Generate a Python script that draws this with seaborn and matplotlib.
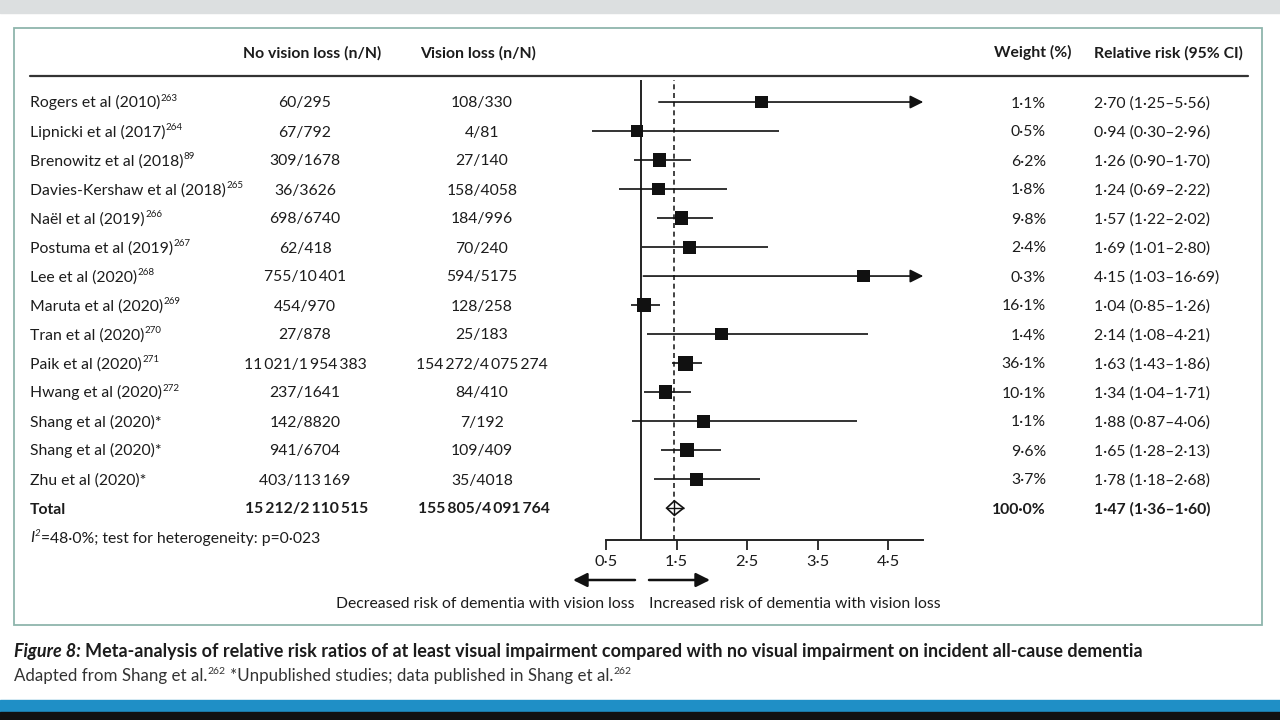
import numpy as np
import pandas as pd
import matplotlib
matplotlib.use('Agg')
import matplotlib.pyplot as plt
import seaborn as sns
from matplotlib.patches import Polygon, Rectangle

TS = '\u2009'  # thin space used as thousands separator

studies = ['Rogers et al (2010)', 'Lipnicki et al (2017)', 'Brenowitz et al (2018)',
           'Davies-Kershaw et al (2018)', 'Naël et al (2019)', 'Postuma et al (2019)',
           'Lee et al (2020)', 'Maruta et al (2020)', 'Tran et al (2020)', 'Paik et al (2020)',
           'Hwang et al (2020)', 'Shang et al (2020)', 'Shang et al (2020)', 'Zhu et al (2020)']
refs = ['263', '264', '89', '265', '266', '267', '268', '269', '270', '271', '272', '*', '*', '*']
no_loss = ['60/295', '67/792', '309/1678', '36/3626', '698/6740', '62/418',
           f'755/10{TS}401', '454/970', '27/878', f'11{TS}021/1{TS}954{TS}383',
           '237/1641', '142/8820', '941/6704', f'403/113{TS}169']
vis_loss = ['108/330', '4/81', '27/140', '158/4058', '184/996', '70/240',
            '594/5175', '128/258', '25/183', f'154{TS}272/4{TS}075{TS}274',
            '84/410', '7/192', '109/409', '35/4018']
weights = [1.1, 0.5, 6.2, 1.8, 9.8, 2.4, 0.3, 16.1, 1.4, 36.1, 10.1, 1.1, 9.6, 3.7]
rr = [2.70, 0.94, 1.26, 1.24, 1.57, 1.69, 4.15, 1.04, 2.14, 1.63, 1.34, 1.88, 1.65, 1.78]
ci_lo = [1.25, 0.30, 0.90, 0.69, 1.22, 1.01, 1.03, 0.85, 1.08, 1.43, 1.04, 0.87, 1.28, 1.18]
ci_hi = [5.56, 2.96, 1.70, 2.22, 2.02, 2.80, 16.69, 1.26, 4.21, 1.86, 1.71, 4.06, 2.13, 2.68]

total_no_loss = f'15{TS}212/2{TS}110{TS}515'
total_vis_loss = f'155{TS}805/4{TS}091{TS}764'
total_weight = 100.0
total_rr, total_lo, total_hi = 1.47, 1.36, 1.60

x_ticks = [0.5, 1.5, 2.5, 3.5, 4.5]
x_max = 5.0

sns.set_theme(style='white')
plt.rcParams['font.family'] = ['Lato', 'DejaVu Sans']

INK = '#1c1c1c'
FS = 11.3
SUP = 7.0


def dot(v, nd=2):
    return f'{v:.{nd}f}'.replace('.', '·')


df = pd.DataFrame({'study': studies, 'rr': rr, 'lo': ci_lo, 'hi': ci_hi, 'weight': weights})
df['row'] = np.arange(len(df))
total_row = len(df)

fig = plt.figure(figsize=(12.8, 7.2), dpi=100)
fig.patch.set_facecolor('white')
renderer = fig.canvas.get_renderer()

# full-figure axes in pixel coords for the table text and frame
ax = fig.add_axes([0, 0, 1, 1])
ax.set_xlim(0, 1280)
ax.set_ylim(720, 0)
ax.axis('off')

ax.add_patch(Rectangle((0, 0), 1280, 13, color='#dcdfe0', zorder=0))
ax.add_patch(Rectangle((0, 700), 1280, 12, color='#1f8fc6', zorder=0))
ax.add_patch(Rectangle((0, 712), 1280, 8, color='#111111', zorder=0))
ax.add_patch(Rectangle((14, 28), 1248, 597, fill=False, edgecolor='#8fb5ad', lw=1.3))


def row_y(r):
    return 102 + 29.0 * r


BASE = 5.5  # baseline offset below row centre


def text_sup(x, y, s, sup, fs=FS, sup_fs=SUP, rise=6.5, **kw):
    t = ax.text(x, y, s, fontsize=fs, va='baseline', ha='left', **kw)
    bb = t.get_window_extent(renderer=renderer)
    st = ax.text(bb.x1 + 0.5, y - rise, sup, fontsize=sup_fs, va='baseline', ha='left', **kw)
    return st.get_window_extent(renderer=renderer)


hdr = dict(fontsize=FS, fontweight='bold', color=INK, va='baseline')
ax.text(312, 52 + BASE, 'No vision loss (n/N)', ha='center', **hdr)
ax.text(478, 52 + BASE, 'Vision loss (n/N)', ha='center', **hdr)
ax.text(1072, 52 + BASE, 'Weight (%)', ha='right', **hdr)
ax.text(1094, 52 + BASE, 'Relative risk (95% CI)', ha='left', **hdr)
ax.plot([30, 1248], [76, 76], color='#333333', lw=1.6)

for _, r in df.iterrows():
    i = r['row']
    y = row_y(i) + BASE
    if refs[i] == '*':
        ax.text(30, y, r['study'] + '*', fontsize=FS, color=INK, va='baseline', ha='left')
    else:
        text_sup(30, y, r['study'], refs[i], color=INK)
    ax.text(305, y, no_loss[i], fontsize=FS, color=INK, va='baseline', ha='center')
    ax.text(482, y, vis_loss[i], fontsize=FS, color=INK, va='baseline', ha='center')
    ax.text(1046, y, dot(r['weight'], 1) + '%', fontsize=FS, color=INK, va='baseline', ha='right')
    ax.text(1094, y, f"{dot(r['rr'])} ({dot(r['lo'])}–{dot(r['hi'])})", fontsize=FS,
            color=INK, va='baseline', ha='left')

yt = row_y(total_row) + BASE
bold = dict(fontsize=FS, fontweight='bold', color=INK, va='baseline')
ax.text(30, yt, 'Total', ha='left', **bold)
ax.text(307, yt, total_no_loss, ha='center', **bold)
ax.text(484, yt, total_vis_loss, ha='center', **bold)
ax.text(1046, yt, dot(total_weight, 1) + '%', ha='right', **bold)
ax.text(1094, yt, f'{dot(total_rr)} ({dot(total_lo)}–{dot(total_hi)})', ha='left', **bold)

yh = row_y(total_row + 1) + BASE
bbi = text_sup(30, yh, 'I', '2', color=INK, fontstyle='italic')
ax.text(bbi.x1 + 0.5, yh, '=48·0%; test for heterogeneity: p=0·023', fontsize=FS, color=INK,
        va='baseline', ha='left')

# direction arrows and labels under the forest axis
arr = dict(arrowstyle='-|>', color='#111111', lw=1.8, mutation_scale=21, shrinkA=0, shrinkB=0)
ax.annotate('', xy=(573, 580), xytext=(635, 580), arrowprops=arr)
ax.annotate('', xy=(710, 580), xytext=(649, 580), arrowprops=arr)
ax.text(634, 603 + BASE, 'Decreased risk of dementia with vision loss', fontsize=FS, color=INK,
        ha='right', va='baseline')
ax.text(649, 603 + BASE, 'Increased risk of dementia with vision loss', fontsize=FS, color=INK,
        ha='left', va='baseline')

# caption
CFS = 12.95
cap1 = ax.text(14, 651 + BASE, 'Figure 8:', fontsize=CFS, fontweight='bold', fontstyle='italic',
               color=INK, ha='left', va='baseline')
bb = cap1.get_window_extent(renderer=renderer)
ax.text(bb.x1 + 4, 651 + BASE,
        'Meta-analysis of relative risk ratios of at least visual impairment compared with no visual '
        'impairment on incident all-cause dementia',
        fontsize=CFS, fontweight='bold', color=INK, ha='left', va='baseline')
AFS = 12.2
bba = text_sup(14, 675 + BASE, 'Adapted from Shang et al.', '262', fs=AFS, sup_fs=7.5, rise=7,
               color='#333333')
text_sup(bba.x1 + 4, 675 + BASE, '*Unpublished studies; data published in Shang et al.', '262',
         fs=AFS, sup_fs=7.5, rise=7, color='#333333')

# forest plot axes: x 0.5 -> 606 px, 70.5 px per unit; rows 29 px apart
px_unit = 70.5
x0, x1 = 0.25, 5.1
left_px = 606 - (0.5 - x0) * px_unit
width_px = (x1 - x0) * px_unit
fax = fig.add_axes([left_px / 1280, 180 / 720, width_px / 1280, 460 / 720])
fax.patch.set_alpha(0)
fax.set_xlim(x0, x1)
fax.set_ylim(15.10, -0.759)

for s in ['top', 'right', 'left']:
    fax.spines[s].set_visible(False)
fax.spines['bottom'].set_bounds(0.5, x_max)
fax.spines['bottom'].set_color('#222222')
fax.spines['bottom'].set_linewidth(1.4)
fax.set_yticks([])
fax.set_xticks(x_ticks)
fax.set_xticklabels([dot(t, 1) for t in x_ticks], fontsize=FS + 0.5, color=INK)
fax.tick_params(axis='x', direction='out', length=7, width=1.3, color='#222222', pad=4, bottom=True)

fax.axvline(1.0, color='#222222', lw=1.4, zorder=1)
fax.axvline(total_rr, color='#222222', lw=1.2, ls=(0, (3, 2.2)), zorder=1)

for _, r in df.iterrows():
    if r['hi'] > x_max:
        fax.annotate('', xy=(x_max, r['row']), xytext=(r['lo'], r['row']),
                     arrowprops=dict(arrowstyle='-|>', color='#111111', lw=1.2,
                                     mutation_scale=20, shrinkA=0, shrinkB=0))
    else:
        fax.hlines(r['row'], r['lo'], r['hi'], color='#111111', lw=1.2, zorder=2)

sns.scatterplot(data=df, x='rr', y='row', size='weight', sizes=(85, 115), marker='s',
                color='#111111', edgecolor='none', legend=False, ax=fax, zorder=3)
fax.set_xlabel('')
fax.set_ylabel('')

dh = 0.25
fax.add_patch(Polygon([(total_lo, total_row), (total_rr, total_row - dh),
                       (total_hi, total_row), (total_rr, total_row + dh)],
                      closed=True, facecolor='white', edgecolor='#111111', lw=1.2, zorder=3))
fax.hlines(total_row, total_lo, total_hi, color='#111111', lw=1.0, zorder=4)
fax.vlines(total_rr, total_row - dh, total_row + dh, color='#111111', lw=1.0, zorder=4)

fig.savefig('out.png', dpi=100, facecolor=fig.get_facecolor())
